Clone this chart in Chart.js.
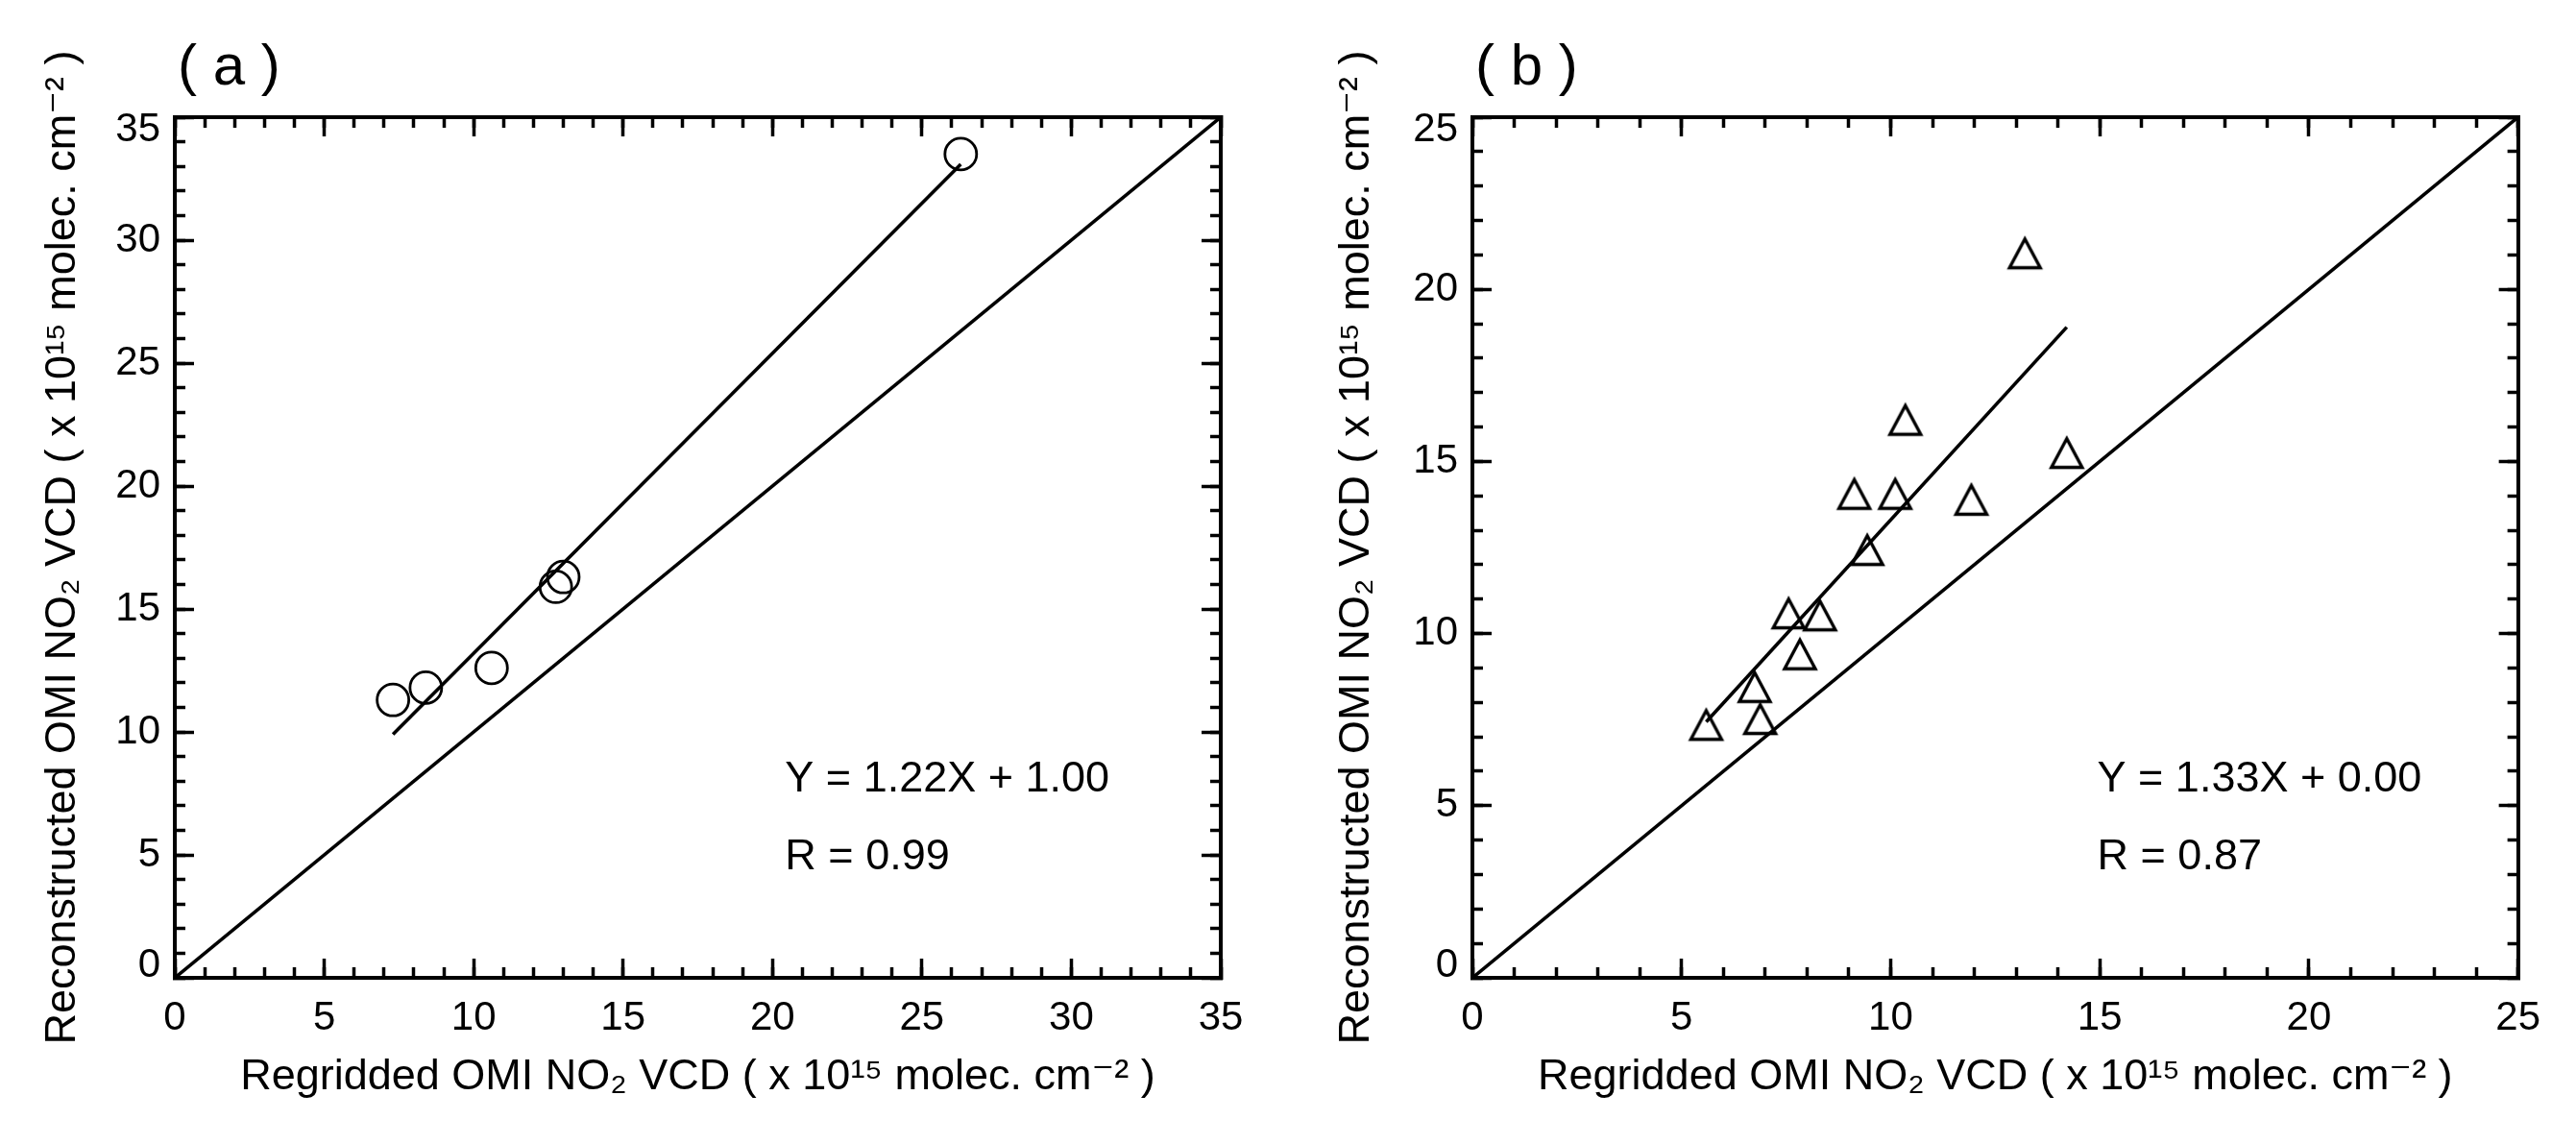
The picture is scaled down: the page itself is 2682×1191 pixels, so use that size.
<!DOCTYPE html>
<html>
<head>
<meta charset="utf-8">
<script src="https://cdn.jsdelivr.net/npm/chart.js@4.4.1/dist/chart.umd.min.js"></script>
<style>
  html, body { margin: 0; padding: 0; background: #fff; }
  body { width: 2682px; height: 1191px; position: relative; overflow: hidden; }
  canvas { position: absolute; top: 0; }
  #panelA { left: 0; }
  #panelB { left: 1341px; }
</style>
</head>
<body>
<canvas id="panelA" width="1341" height="1191"></canvas>
<canvas id="panelB" width="1341" height="1191"></canvas>
<script>
// panel (a): circles
var aX = [7.3, 8.4, 10.6, 12.75, 13.0, 26.3];
var aY = [11.3, 11.8, 12.6, 15.9, 16.3, 33.5];
var aSlope = 1.22, aIntercept = 1.00;
var aTicks = [0, 5, 10, 15, 20, 25, 30, 35];

// panel (b): triangles
var bX = [5.59, 6.75, 6.88, 7.56, 7.83, 8.31, 9.13, 9.44, 10.11, 10.35, 11.93, 13.21, 14.21];
var bY = [7.36, 8.46, 7.53, 10.60, 9.41, 10.54, 14.07, 12.44, 14.07, 16.22, 13.90, 21.06, 15.26];
var bSlope = 1.33, bIntercept = 0.00;
var bTicks = [0, 5, 10, 15, 20, 25];

var xTitle = 'Regridded OMI NO\u2082 VCD ( x 10\u00b9\u2075 molec. cm\u207b\u00b2 )';
var yTitle = 'Reconstructed OMI NO\u2082 VCD ( x 10\u00b9\u2075 molec. cm\u207b\u00b2 )';

var FONT = '"Liberation Sans", Arial, "DejaVu Sans", sans-serif';
Chart.defaults.font.family = FONT;
Chart.defaults.color = '#000';

function pts(xs, ys) {
  return xs.map(function (x, i) { return {x: x, y: ys[i]}; });
}
function fitLine(xs, slope, icpt) {
  var lo = Math.min.apply(null, xs), hi = Math.max.apply(null, xs);
  return [{x: lo, y: slope * lo + icpt}, {x: hi, y: slope * hi + icpt}];
}

// IDL-style open triangle marker
var tri = document.createElement('canvas');
tri.width = 44; tri.height = 44;
(function () {
  var c = tri.getContext('2d');
  c.strokeStyle = '#000';
  c.lineWidth = 3.4;
  c.lineJoin = 'miter';
  c.beginPath();
  c.moveTo(22 - 16, 22 + 15.5);
  c.lineTo(22, 22 - 14.5);
  c.lineTo(22 + 16, 22 + 15.5);
  c.closePath();
  c.stroke();
})();

var textPlugin = {
  id: 'panelText',
  afterDraw: function (chart, args, opts) {
    var ctx = chart.ctx, area = chart.chartArea, sx = chart.scales.x, sy = chart.scales.y;
    ctx.save();
    ctx.fillStyle = '#000';
    ctx.textBaseline = 'alphabetic';
    ctx.textAlign = 'left';
    ctx.font = '60px ' + FONT;
    ctx.fillText(opts.label, area.left + 3, 88);
    ctx.font = '45px ' + FONT;
    opts.notes.forEach(function (n) {
      ctx.fillText(n.text, sx.getPixelForValue(n.x), sy.getPixelForValue(n.y));
    });
    ctx.restore();
  }
};

function buildScales(max, yWidth, yTitlePad) {
  var line = {color: '#000', width: 4};
  function side(pos, step, len, extra) {
    var s = {
      type: 'linear', position: pos, min: 0, max: max,
      weight: step === 1 ? 0 : 1,
      ticks: {display: false, stepSize: step},
      grid: {drawOnChartArea: false, tickLength: -len, tickWidth: 3.5, tickColor: '#000'},
      border: line,
      afterFit: function (sc) {
        if (pos === 'left' || pos === 'right') sc.width = 0; else sc.height = 0;
      }
    };
    return Object.assign(s, extra || {});
  }
  // end labels on the y axis sit inside the frame, as in the original
  function edgeFont(c) {
    var v = c && c.tick ? c.tick.value : null;
    if (v === 0 || v === max) return {size: 42, lineHeight: '26px'};
    return {size: 42};
  }
  return {
    x: side('bottom', 5, 20, {
      ticks: {display: true, stepSize: 5, padding: 37, font: {size: 42}, maxRotation: 0, autoSkip: false},
      title: {display: true, text: xTitle, font: {size: 45}, padding: {top: 0, bottom: 42}},
      afterFit: function (sc) { sc.height = 173; }
    }),
    xMinor: side('bottom', 1, 11),
    xTop: side('top', 5, 20),
    xTopMinor: side('top', 1, 11),
    y: side('left', 5, 20, {
      ticks: {
        display: true, stepSize: 5, padding: 35, font: edgeFont, autoSkip: false,
        callback: function (v) {
          if (v === 0) return [String(v), ''];
          if (v === max) return ['', String(v)];
          return String(v);
        }
      },
      title: {display: true, text: yTitle, font: {size: 45}, padding: {top: yTitlePad, bottom: 0}},
      afterFit: function (sc) { sc.width = yWidth; }
    }),
    yMinor: side('left', 1, 11),
    yRight: side('right', 5, 20),
    yRightMinor: side('right', 1, 11)
  };
}

function makePanel(id, cfg) {
  return new Chart(document.getElementById(id), {
    type: 'scatter',
    data: {
      datasets: [
        {
          data: pts(cfg.xs, cfg.ys), showLine: false,
          pointStyle: cfg.marker, pointRadius: cfg.radius, pointBorderWidth: 2.8,
          pointBorderColor: '#000', pointBackgroundColor: 'rgba(0,0,0,0)'
        },
        {
          data: fitLine(cfg.xs, cfg.slope, cfg.icpt), showLine: true,
          borderColor: '#000', borderWidth: 3.6, pointRadius: 0
        },
        {
          data: [{x: 0, y: 0}, {x: cfg.max, y: cfg.max}], showLine: true,
          borderColor: '#000', borderWidth: 3.6, pointRadius: 0
        }
      ]
    },
    options: {
      responsive: false,
      devicePixelRatio: 1,
      animation: false,
      layout: {padding: {left: 0, top: 122, right: cfg.padRight, bottom: 0}},
      scales: buildScales(cfg.max, cfg.yWidth, cfg.yTitlePad),
      plugins: {
        legend: {display: false},
        tooltip: {enabled: false},
        panelText: {label: cfg.label, notes: cfg.notes}
      }
    },
    plugins: [textPlugin]
  });
}

makePanel('panelA', {
  xs: aX, ys: aY, slope: aSlope, icpt: aIntercept, max: aTicks[aTicks.length - 1],
  marker: 'circle', radius: 16.5,
  yWidth: 182, yTitlePad: 39, padRight: 70,
  label: '( a )',
  notes: [
    {text: 'Y = 1.22X + 1.00', x: 20.42, y: 7.58},
    {text: 'R = 0.99', x: 20.42, y: 4.41}
  ]
});

makePanel('panelB', {
  xs: bX, ys: bY, slope: bSlope, icpt: bIntercept, max: bTicks[bTicks.length - 1],
  marker: tri, radius: 18,
  yWidth: 192, yTitlePad: 45, padRight: 58,
  label: '( b )',
  notes: [
    {text: 'Y = 1.33X + 0.00', x: 14.94, y: 5.42},
    {text: 'R = 0.87', x: 14.94, y: 3.16}
  ]
});
</script>
</body>
</html>
